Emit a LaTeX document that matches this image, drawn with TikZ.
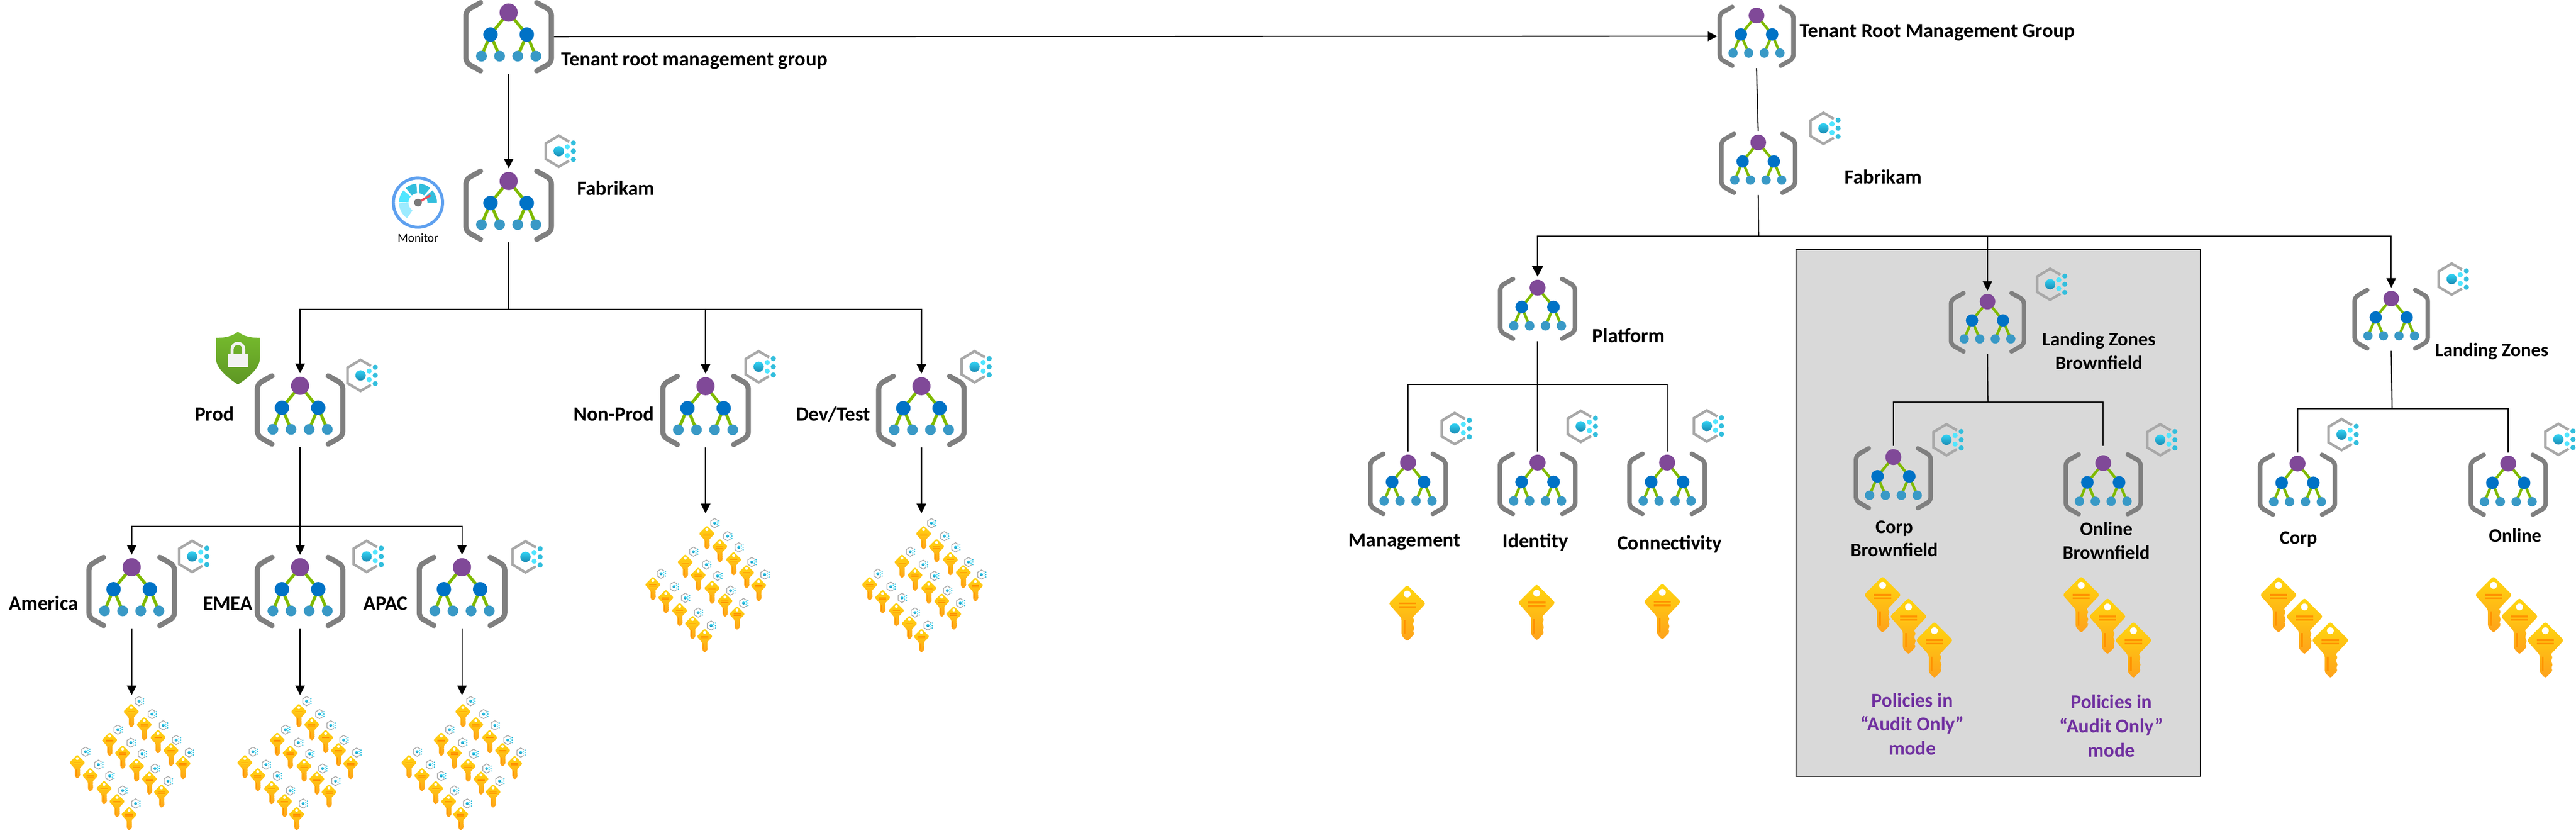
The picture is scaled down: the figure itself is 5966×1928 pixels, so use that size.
\documentclass[tikz,border=0pt]{standalone}
\usepackage{fontspec}
\setmainfont{Carlito}
\usetikzlibrary{arrows.meta}
\definecolor{bracketgray}{HTML}{7F7F7F}
\definecolor{treegreen}{HTML}{7FBA00}
\definecolor{treepurple}{HTML}{804998}
\definecolor{treeblue}{HTML}{0072C6}
\definecolor{treelight}{HTML}{3999C6}
\definecolor{hexgray}{HTML}{A8A8A8}
\definecolor{dotpale}{HTML}{50E6FF}
\definecolor{dotcyan}{HTML}{32BEDD}
\definecolor{dotdark}{HTML}{198AB3}
\definecolor{dotlight}{HTML}{32D4F5}
\definecolor{keytop}{HTML}{FFD70F}
\definecolor{keybottom}{HTML}{FEA11B}
\definecolor{keybar}{HTML}{FF9300}
\definecolor{boxgray}{HTML}{D9D9D9}
\definecolor{auditpurple}{HTML}{7030A0}
\definecolor{ringblue}{HTML}{5EA0EF}
\definecolor{paleseg}{HTML}{9CEBFF}
\definecolor{needlered}{HTML}{EF4E5A}
\definecolor{hubgray}{HTML}{7A7A7A}
\definecolor{shieldtop}{HTML}{76BC2D}
\definecolor{shieldbottom}{HTML}{5E9624}
\tikzset{
	pics/mgicon/.style={code={
		\begin{scope}[scale=#1]
			\draw[treegreen, line width=#1*.07cm] (-63,45) -- (-42,-5) -- (0,-56) -- (42,-5) -- (63,45);
			\draw[treegreen, line width=#1*.07cm] (-21,45) -- (-42,-5);
			\draw[treegreen, line width=#1*.07cm] (21,45) -- (42,-5);
			\fill[treepurple] (0,-56) circle [radius=21];
			\fill[treeblue] (-42,-5) circle [radius=16.7];
			\fill[treeblue] (42,-5) circle [radius=16.7];
			\foreach \XCoord in {-63,-21,21,63}{
				\fill[treelight] (\XCoord,45) circle [radius=12.5];
			}
			\foreach \Side in {-1,1}{
				\draw[bracketgray, line width=#1*.12cm, line cap=round, rounded corners=#1*3pt] (\Side*65,-79) -- (\Side*99,-60) -- (\Side*99,60) -- (\Side*65,79);
			}
		\end{scope}
	}},
	pics/gearicon/.style={code={
		\begin{scope}[scale=#1]
			\draw[hexgray, line width=#1*.06cm] (24,-22) -- (0,-36) -- (-30,-18) -- (-30,18) -- (0,36) -- (24,22);
			\shade[top color=dotlight, bottom color=dotdark] (0,0) circle [radius=12];
			\fill[dotpale] (20,-10) circle [radius=6];
			\fill[dotpale] (20,10) circle [radius=6];
			\foreach \YCoord in {-19,0,19}{
				\fill[dotcyan] (34,\YCoord) circle [radius=6];
			}
		\end{scope}
	}},
	pics/keyicon/.style={code={
		\begin{scope}[scale=#1]
			\shade[top color=keytop, bottom color=keybottom, rounded corners=#1*1.4pt] (0,-66) -- (43,-23) -- (11,11) -- (18,15) -- (12,25) -- (18,34) -- (12,42) -- (18,46) -- (0,65) -- (-13,51) -- (-13,11) -- (-43,-23) -- cycle;
			\fill[white] (0,-45) circle [radius=8];
			\fill[keybar] (-20,-25) rectangle (20,-21);
			\fill[keybar] (-20,-17) rectangle (20,-13);
			\fill[keybar] (-8,15) rectangle (-4,48);
		\end{scope}
	}},
	pics/keycloud/.style={code={
		\foreach \XCoord/\YCoord/\GearX/\GearY in {3/57/21/23,33/87/51/53,-47/123/-28/89,-17/153/2/119,65/117/77/79,95/147/107/113,-122/175/-103/140,-92/205/-73/170,15/183/28/145,45/213/58/179,123/177/137/142,-60/235/-47/196,-30/265/-17/230,73/243/88/208,-2/295/13/260}{
			\pic at (\GearX,\GearY) {gearicon=.295};
			\pic at (\XCoord,\YCoord) {keyicon=.425};
		}
	}},
	pics/monitoricon/.style={code={
		\draw[ringblue, line width=.07cm] (0,0) circle [radius=57];
		\foreach \AngA/\AngB/\SegCol in {182/235/paleseg,178/140/dotpale,130/95/dotcyan,85/50/dotcyan,40/0/dotcyan}{
			\fill[\SegCol] (-\AngA:44) arc [start angle=-\AngA, end angle=-\AngB, radius=44] -- (-\AngB:22) arc [start angle=-\AngB, end angle=-\AngA, radius=22] -- cycle;
		}
		\draw[needlered, line width=.05cm] (0,0) -- (29,-17);
		\fill[hubgray] (0,0) circle [radius=9];
	}},
	pics/shieldicon/.style={code={
		\shade[top color=shieldtop, bottom color=shieldbottom] (0,-61) .. controls (-14,-50) and (-30,-47) .. (-51,-47) -- (-51,0) .. controls (-51,25) and (-20,48) .. (0,61) .. controls (20,48) and (51,25) .. (51,0) -- (51,-47) .. controls (30,-47) and (14,-50) .. (0,-61) -- cycle;
		\draw[white!95!black, line width=.07cm] (-13.5,-9) -- (-13.5,-21) arc [start angle=180, end angle=360, radius=13.5] -- (13.5,-9);
		\fill[white!95!black] (-23,-10) rectangle (23,21);
	}}
}
\begin{document}
\begin{tikzpicture}[x=0.01cm, y=-0.01cm]
\tikzstyle{every node}=[font=\fontsize{13.3}{15.5}\selectfont\bfseries, inner sep=0pt]
\tikzstyle{zonetext}=[font=\fontsize{12.6}{15.5}\selectfont\bfseries]
\tikzstyle{audittext}=[align=center, text=auditpurple, font=\fontsize{13}{15.9}\selectfont\bfseries]
\tikzstyle{mgbox}=[minimum width=#1*2.09cm, minimum height=#1*1.69cm]
\tikzstyle{link}=[black, line width=0.7pt]
\tikzstyle{flow}=[link, -{Triangle[length=.22cm, width=.22cm]}]
\tikzstyle{bigflow}=[link, -{Triangle[length=.25cm, width=.26cm]}]
	\useasboundingbox (0,0) rectangle (5966,1928);

	\fill[boxgray] (4159,577) rectangle (5096,1797);
	\draw[black, line width=0.7pt] (4159,577) rectangle (5096,1797);

	\foreach \Name/\XCoord/\YCoord/\Sc in {root/1178/85/1,fab/1178/475/1,prod/695/949/1,nonprod/1634/950/1,devtest/2134/950/1,america/305/1369/1,emea/695/1369/1,apac/1070/1369/1,tenant/4068/84/.862,rfab/4072/378/.862,platform/3561/715/.875,mgmt/3261/1120/.88,identity/3561/1120/.88,connect/3861/1120/.88,lzb/4603/746/.855,corpbf/4385/1107/.875,onlinebf/4871/1121/.875,lz/5538/739/.855,corp/5321/1122/.875,online/5809/1122/.875}{
		\node[mgbox=\Sc] (\Name) at (\XCoord,\YCoord) {};
		\pic at (\Name) {mgicon=\Sc};
	}

	\foreach \XCoord/\YCoord in {1294/350,835/869,1757/849,2257/849,445/1288,849/1288,1217/1289,4223/297,3369/992,3661/987,3953/986,4748/658,4508/1018,5003/1018,5678/646,5423/1006,5925/1017}{
		\pic at (\XCoord,\YCoord) {gearicon=1};
	}

	\foreach \XCoord/\YCoord in {3259/1420,3559/1418,3850/1416,4360/1400,4420/1450,4480/1505,4820/1400,4881/1450,4941/1505,5277/1400,5337/1450,5397/1505,5775/1400,5835/1450,5895/1505}{
		\pic at (\XCoord,\YCoord) {keyicon=1};
	}

	\foreach \XCoord/\YCoord in {301/1600,689/1600,1069/1600,1634/1188,2136/1188}{
		\pic at (\XCoord,\YCoord) {keycloud};
	}

	\pic at (968,469) {monitoricon};
	\pic at (551,829) {shieldicon};

	\coordinate (fabbus) at (1178,716);
	\coordinate (prodbus) at (695,1218);
	\coordinate (rfabbus) at (4073,546);
	\coordinate (platbus) at (3561,890);
	\coordinate (lzbbus) at (4604,931);
	\coordinate (lzbus) at (5540,946);
	\coordinate (amkeys) at (305,1609);
	\coordinate (emkeys) at (695,1609);
	\coordinate (apkeys) at (1070,1609);
	\coordinate (npkeys) at (1634,1188);
	\coordinate (dtkeys) at (2134,1188);

	\draw[flow] (root.east) -- (tenant.west);
	\draw[flow] (root.south) -- (fab.north);
	\draw[link] (fab.south) -- (fabbus);
	\draw[flow] (fabbus) -| (prod.north);
	\draw[flow] (fabbus) -| (nonprod.north);
	\draw[flow] (fabbus) -| (devtest.north);
	\draw[flow] (prod.south) -- (emea.north);
	\draw[flow] (prodbus) -| (america.north);
	\draw[flow] (prodbus) -| (apac.north);
	\draw[flow] (america.south) -- (amkeys);
	\draw[flow] (emea.south) -- (emkeys);
	\draw[flow] (apac.south) -- (apkeys);
	\draw[flow] (nonprod.south) -- (npkeys);
	\draw[flow] (devtest.south) -- (dtkeys);

	\draw[link] (tenant.south) -- (rfab.north);
	\draw[link] (rfab.south) -- (rfabbus);
	\draw[bigflow] (rfabbus) -| (platform.north);
	\draw[flow] (rfabbus) -| (lzb.north);
	\draw[flow] (rfabbus) -| (lz.north);
	\draw[link] (platform.south) -- (identity.north);
	\draw[link] (mgmt.north) |- (platbus) -| (connect.north);
	\draw[link] (lzb.south) -- (lzbbus);
	\draw[link] (corpbf.north) |- (lzbbus) -| ([yshift=4pt]onlinebf.north);
	\draw[link] (lz.south) -- (lzbus);
	\draw[link] (corp.north) |- (lzbus) -| (online.north);

	\node[anchor=base west] (rootlbl) at (1299,152) {Tenant root management group};
	\node[anchor=base west] (fablbl) at (1336,452) {Fabrikam};
	\node[font=\fontsize{8}{10}\selectfont] (monlbl) at (968,551) {Monitor};
	\node[anchor=base east] (prodlbl) at (543,974) {Prod};
	\node[anchor=base east] (nonprodlbl) at (1516,974) {Non-Prod};
	\node[anchor=base west] (devtestlbl) at (1843,974) {Dev/Test};
	\node[anchor=base east] (americalbl) at (182,1412) {America};
	\node[anchor=base west] (emealbl) at (470,1412) {EMEA};
	\node[anchor=base west] (apaclbl) at (841,1412) {APAC};

	\node[anchor=base west] (tenantlbl) at (4168,87) {Tenant Root Management Group};
	\node[anchor=base west] (rfablbl) at (4271,425) {Fabrikam};
	\node[anchor=base west] (platformlbl) at (3687,793) {Platform};
	\node[anchor=base] (mgmtlbl) at (3253,1265) {Management};
	\node[anchor=base] (identitylbl) at (3556,1268) {Identity};
	\node[anchor=base] (connectlbl) at (3867,1272) {Connectivity};
	\node[zonetext, anchor=base west] (lzlbl) at (5639,825) {Landing Zones};
	\node[zonetext, anchor=base] (corplbl) at (5323,1259) {Corp};
	\node[zonetext, anchor=base] (onlinelbl) at (5825,1255) {Online};

	\node[zonetext, align=center] (lzblbl) at (4861,812) {Landing Zones\\Brownfield};
	\node[zonetext, align=center] (corpbflbl) at (4387,1247) {Corp\\Brownfield};
	\node[zonetext, align=center] (onlinebflbl) at (4878,1251) {Online\\Brownfield};
	\node[audittext] (auditlbla) at (4429,1676) {Policies in\\“Audit Only”\\mode};
	\node[audittext] (auditlblb) at (4890,1680) {Policies in\\“Audit Only”\\mode};
\end{tikzpicture}
\end{document}
